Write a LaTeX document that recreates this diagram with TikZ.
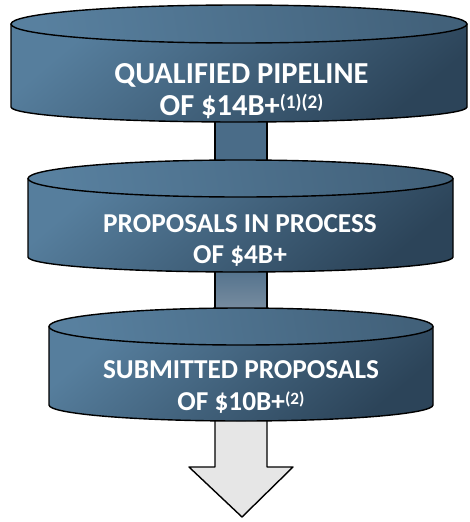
\documentclass[tikz,border=0pt]{standalone}
\usepackage{fontspec}
\setmainfont{Carlito}
\definecolor{sidelight}{RGB}{86,126,157}
\definecolor{sidedark}{RGB}{44,68,89}
\definecolor{toplight}{RGB}{88,128,159}
\definecolor{topdark}{RGB}{66,97,122}
\definecolor{stemblue}{RGB}{74,108,136}
\definecolor{stemlight}{RGB}{128,146,164}
\definecolor{arrowgray}{RGB}{230,230,230}
\tikzset{
  outline/.style={draw=black, line width=1.4pt, line join=round},
  diskside/.style={outline, top color=sidelight, bottom color=sidedark, shading angle=40},
  disktop/.style={outline, left color=toplight, right color=topdark, shading angle=100},
  label/.style={text=white, align=center, anchor=base},
  biglabel/.style={label, font=\bfseries\fontsize{30.5}{34}\selectfont},
  smalllabel/.style={label, font=\bfseries\fontsize{27.3}{31}\selectfont},
}
% raised footnote marker, scaled to the surrounding text
\newcommand{\upnote}[1]{\raisebox{0.21em}{\fontsize{0.63em}{0.63em}\selectfont #1}}
% one disk: centre x, top-ellipse y, bottom-ellipse y, half width, top and bottom radii
\newcommand{\pipedisk}[6]{%
  \path[diskside] (#1-#4,#2) -- (#1-#4,#3)
    arc[start angle=180, end angle=360, x radius=#4, y radius=-#6]
    -- (#1+#4,#2) -- cycle;
  \path[disktop] (#1,#2) ellipse[x radius=#4, y radius=#5];
}
\begin{document}
\begin{tikzpicture}[x=1pt, y=-1pt]
  \useasboundingbox (0,0) rectangle (469,522);
  % connecting stems
  \path[outline, fill=stemblue] (215,110) rectangle (267,170);
  \path[outline, top color=stemblue, bottom color=stemlight] (215,260) rectangle (267,318);
  % outflow arrow
  \path[outline, fill=arrowgray] (215,410) -- (215,467) -- (189,467) -- (242,517)
    -- (293,467) -- (267,467) -- (267,410) -- cycle;
  % stacked disks
  \pipedisk{239}{24}{107}{228}{19}{15}
  \pipedisk{240.5}{178.5}{257}{212.5}{18.5}{15}
  \pipedisk{241}{326.5}{405}{192}{18.5}{16}
  % labels
  \node[biglabel] (pipeline) at (241.5,83) {QUALIFIED PIPELINE};
  \node[biglabel] (pipelineval) at (241.5,115) {OF \$14B+\upnote{(1)(2)}};
  \node[smalllabel] (process) at (240,232) {PROPOSALS IN PROCESS};
  \node[smalllabel] (processval) at (240,263) {OF \$4B+};
  \node[smalllabel] (submitted) at (241,378) {SUBMITTED PROPOSALS};
  \node[smalllabel] (submittedval) at (241,410) {OF \$10B+\upnote{(2)}};
\end{tikzpicture}
\end{document}
